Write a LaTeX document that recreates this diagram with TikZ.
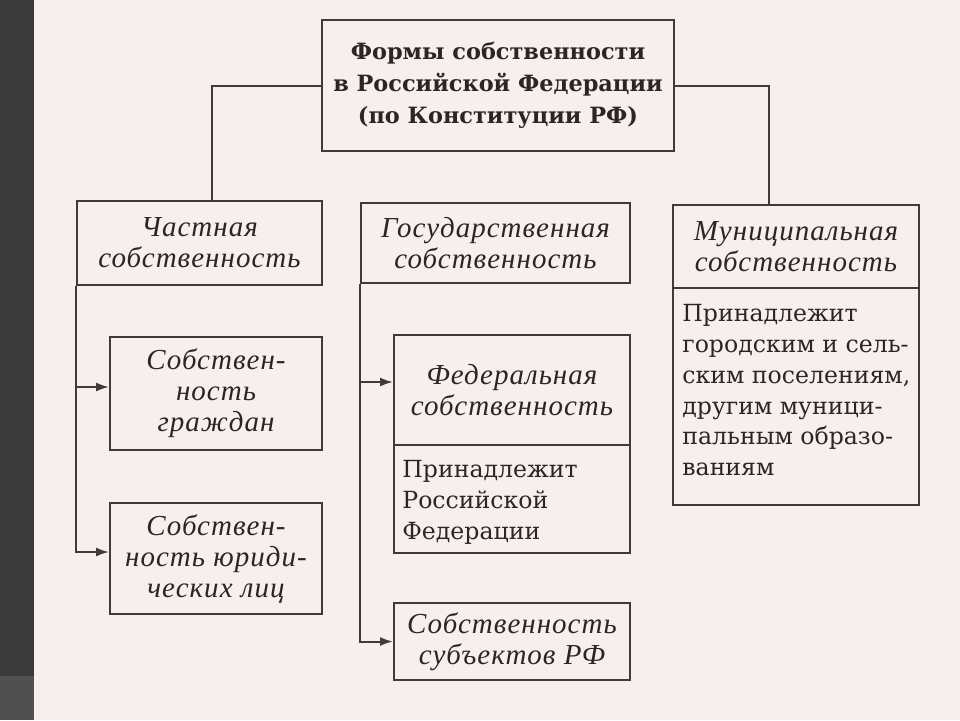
\documentclass[tikz,border=0pt]{standalone}
\usepackage{fontspec}
\setmainfont{DejaVu Serif}
\newfontfamily\itf[LetterSpace=3.5]{Liberation Serif}
\usetikzlibrary{arrows.meta,calc}
\definecolor{paper}{HTML}{F7EFED}
\definecolor{strip}{HTML}{3A3A3A}
\definecolor{patch}{HTML}{505050}
\definecolor{linec}{HTML}{403B3B}
\definecolor{textc}{HTML}{2A2626}
\begin{document}
\begin{tikzpicture}[x=0.5pt,y=-0.5pt,
  box/.style={draw=linec, line width=1pt, rectangle, inner sep=0pt},
  conn/.style={draw=linec, line width=1pt},
  arr/.style={conn, -{Latex[length=6.5pt,width=4.5pt]}},
  ttl/.style={font=\fontsize{11.2}{16}\selectfont\bfseries, align=center, text=textc},
  hd/.style={font=\itf\itshape\fontsize{14.5}{15.5}\selectfont, align=center, text=textc},
  bd/.style={font=\fontsize{11.8}{15.4}\selectfont, align=left, text=textc, inner sep=0pt, anchor=north west}]
\useasboundingbox (0,0) rectangle (960,720);
\fill[paper] (0,0) rectangle (960,720);
\fill[strip] (0,0) rectangle (34,720);
\fill[patch] (0,676) rectangle (34,720);
% boxes
\node[box, ttl, minimum width=176pt, minimum height=65.5pt] (title) at (498,85.5)
  {Формы собственности\\в Российской Федерации\\(по Конституции РФ)};
\node[box, hd, minimum width=122.5pt, minimum height=42pt] (chast) at (199.5,243)
  {Частная\\собственность};
\node[box, hd, minimum width=134.5pt, minimum height=40pt] (gos) at (495.5,243)
  {Государственная\\собственность};
\node[box, hd, minimum width=123pt, minimum height=41.5pt] (munH) at (796,246.5)
  {Муниципальная\\собственность};
\node[box, minimum width=123pt, minimum height=108.5pt] (munB) at (796,396.5) {};
\node[box, hd, minimum width=106pt, minimum height=56.5pt] (grazh) at (216,393.5)
  {Собствен-\\ность\\граждан};
\node[box, hd, minimum width=106pt, minimum height=55.5pt] (jur) at (216,558.5)
  {Собствен-\\ность юриди-\\ческих лиц};
\node[box, hd, minimum width=118pt, minimum height=55pt] (fedH) at (512,390)
  {Федеральная\\собственность};
\node[box, minimum width=118pt, minimum height=54pt] (fedB) at (512,499) {};
\node[box, hd, minimum width=118pt, minimum height=38.5pt] (subj) at (512,641.5)
  {Собственность\\субъектов РФ};
% body texts
\node[bd] (munT) at ($(munB.north west)+(10,17)$)
  {Принадлежит\\городским и сель-\\ским поселениям,\\другим муници-\\пальным образо-\\ваниям};
\node[bd] (fedT) at ($(fedB.north west)+(9,16)$)
  {Принадлежит\\Российской\\Федерации};
% connectors
\coordinate (cL) at ($(chast.north west)!0.551!(chast.north east)$);
\coordinate (cR) at ($(munH.north west)!0.39!(munH.north east)$);
\draw[conn] (title.west) -| (cL);
\draw[conn] (title.east) -| (cR);
\draw[arr] (chast.south west) |- ($(grazh.west)+(0,-6.5)$);
\draw[arr] (chast.south west) |- ($(jur.west)+(0,-6.5)$);
\draw[arr] (gos.south west) |- ($(fedH.west)+(0,-8)$);
\draw[arr] (gos.south west) |- (subj.west);
\end{tikzpicture}
\end{document}
